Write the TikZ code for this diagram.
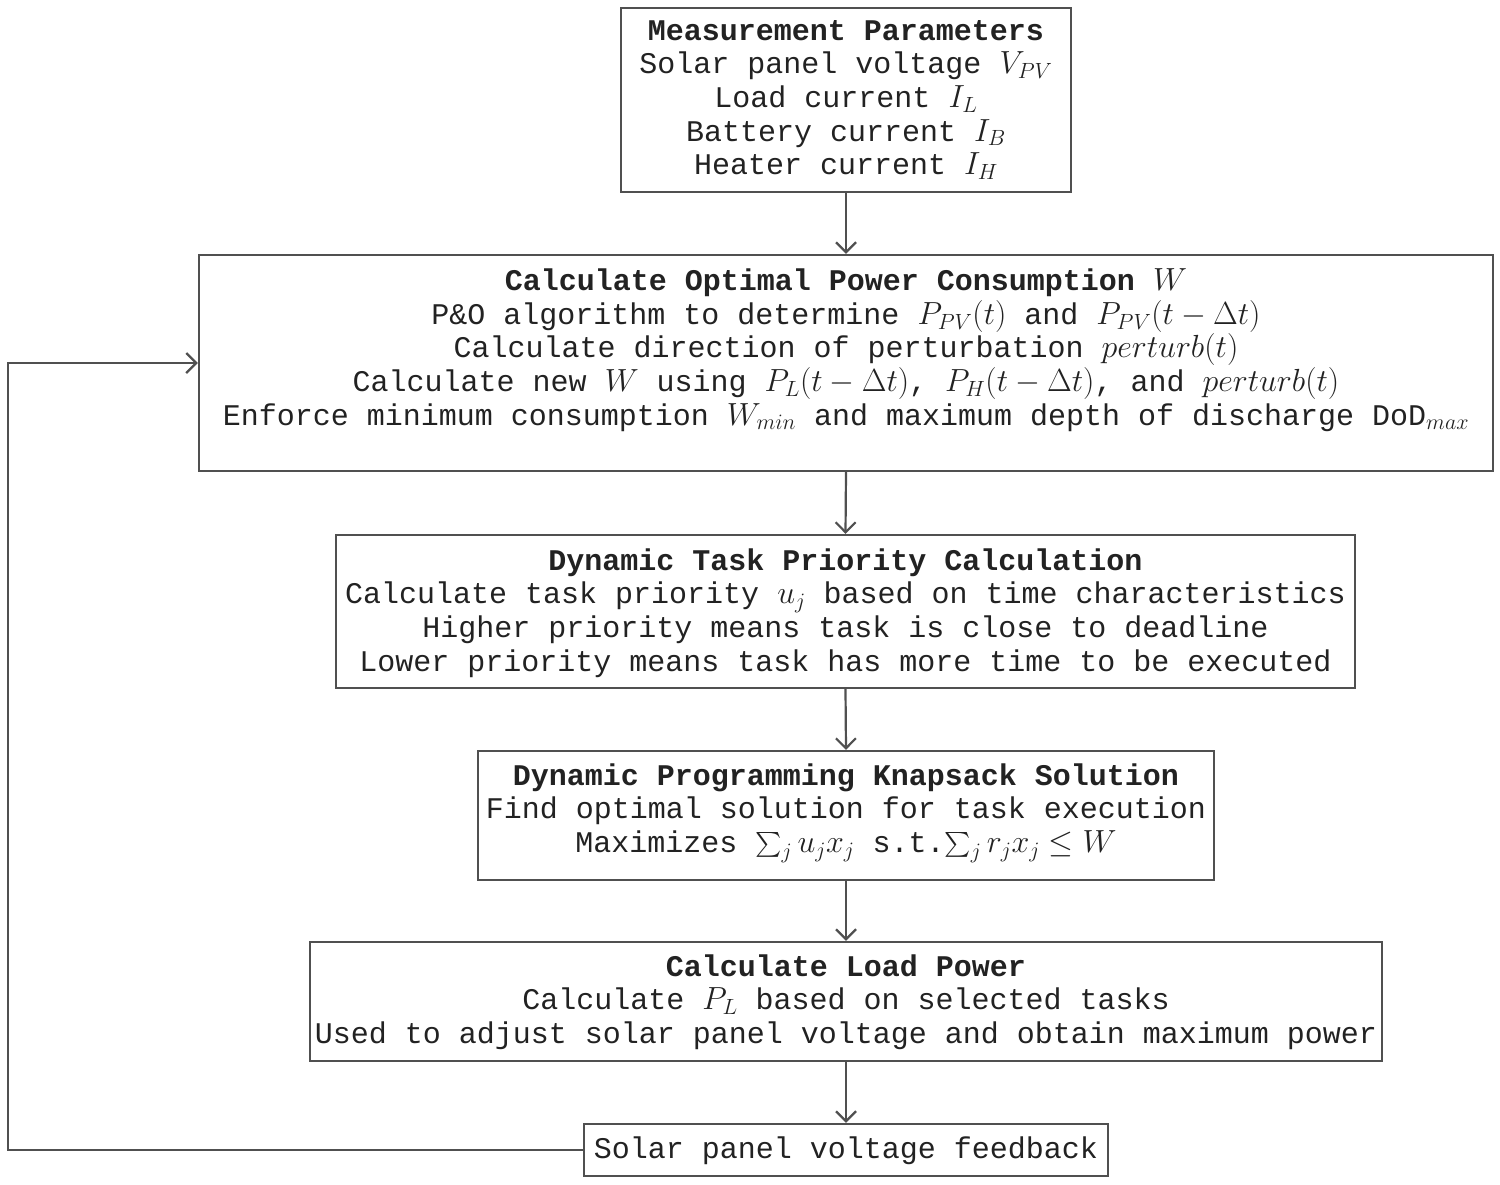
\RequirePackage{fix-cm}
\documentclass[tikz,border=0pt]{standalone}
\usepackage{amsmath}
\usepackage{fontspec}
\setmonofont{Liberation Mono}
\DeclareMathSizes{30}{32}{22}{16}
\usetikzlibrary{arrows.meta}
\definecolor{edge}{HTML}{505050}
\definecolor{ink}{HTML}{222222}
\begin{document}
\begin{tikzpicture}[x=1pt,y=-1pt,
  box/.style={draw=edge, line width=2.4pt, inner sep=0pt, minimum width=#1},
  txt/.style={inner sep=0pt, align=center, text=ink, font=\ttfamily\fontsize{30}{33.6}\selectfont},
  arr/.style={draw=edge, line width=2.2pt, -{Straight Barb[length=10pt,width=20pt,line width=2.2pt]}}]
\useasboundingbox (0,0) rectangle (1500,1184);

\node[box=450, minimum height=184] (b1) at (846,100) {};
\node[box=1294, minimum height=216] (b2) at (846,363) {};
\node[box=1019, minimum height=153] (b3) at (845.5,611.5) {};
\node[box=736, minimum height=129] (b4) at (846,815.5) {};
\node[box=1072, minimum height=119] (b5) at (846,1001.5) {};
\node[box=524, minimum height=52] (b6) at (846,1150) {};

\node[txt] (t1) at (846,100) {\textbf{Measurement Parameters}\\
Solar panel voltage $V_{PV}$\\
Load current $I_L$\\
Battery current $I_B$\\
Heater current $I_H$};

\node[txt] (t2) at (846,350) {\textbf{Calculate Optimal Power Consumption} $W$\\
P\&O algorithm to determine $P_{PV}(t)$ and $P_{PV}(t-\Delta t)$\\
Calculate direction of perturbation $perturb(t)$\\
Calculate new $W$ using $P_L(t-\Delta t)$, $P_H(t-\Delta t)$, and $perturb(t)$\\
Enforce minimum consumption $W_{min}$ and maximum depth of discharge DoD$_{max}$};

\node[txt] (t3) at (845.5,613) {\textbf{Dynamic Task Priority Calculation}\\
Calculate task priority $u_j$ based on time characteristics\\
Higher priority means task is close to deadline\\
Lower priority means task has more time to be executed};

\node[txt] (t4) at (846,813) {\textbf{Dynamic Programming Knapsack Solution}\\
Find optimal solution for task execution\\
Maximizes $\sum_j u_jx_j$ s.t.$\sum_j r_jx_j \le W$};

\node[txt] (t5) at (846,1002) {\textbf{Calculate Load Power}\\
Calculate $P_L$ based on selected tasks\\
Used to adjust solar panel voltage and obtain maximum power};

\node[txt] (t6) at (846,1151) {Solar panel voltage feedback};

\draw[arr] (b1.south) -- (b2.north);
\draw[arr] (b2.south) -- (b3.north);
\draw[arr] (b3.south) -- (b4.north);
\draw[arr] (b4.south) -- (b5.north);
\draw[arr] (b5.south) -- (b6.north);
\coordinate (fb) at (8,1150);
\draw[arr] (b6.west) -- (fb) |- (b2.west);
\end{tikzpicture}
\end{document}
